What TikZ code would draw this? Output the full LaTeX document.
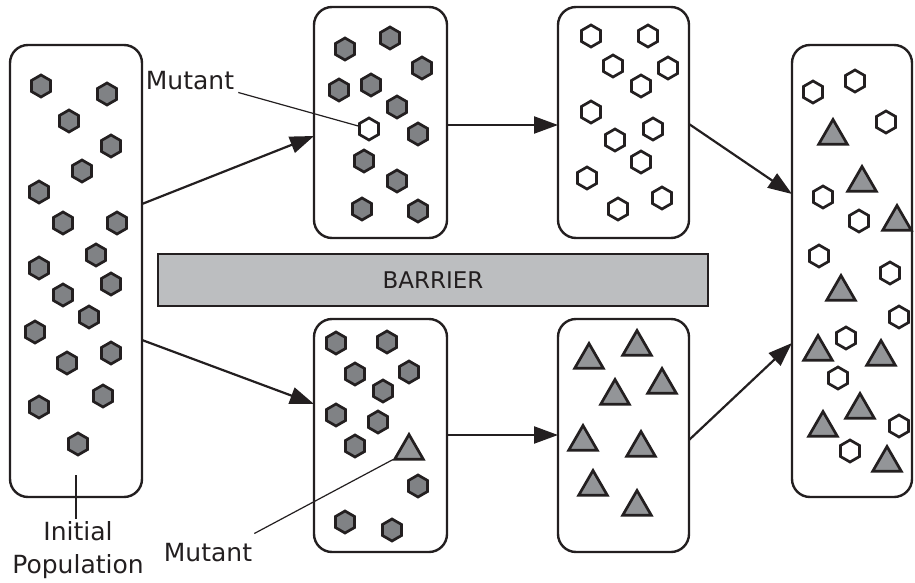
\documentclass[tikz,border=0pt]{standalone}
\usepackage{fontspec}
\setmainfont{DejaVu Sans}
\usetikzlibrary{shapes.geometric,arrows.meta}
\definecolor{ink}{HTML}{231F20}
\definecolor{hexfill}{HTML}{808285}
\definecolor{trifill}{HTML}{939598}
\definecolor{barfill}{HTML}{BCBEC0}
\begin{document}
\begin{tikzpicture}[x=1pt,y=-1pt,
  popbox/.style={draw=ink, line width=2.4pt, rounded corners=18pt, fill=white, inner sep=0pt, outer sep=0pt},
  hexd/.style={regular polygon, regular polygon sides=6, shape border rotate=30, minimum size=22pt, inner sep=0pt, draw=ink, line width=2.7pt, fill=hexfill},
  hexw/.style={hexd, fill=white},
  tri/.style={regular polygon, regular polygon sides=3, minimum size=33pt, inner sep=0pt, draw=ink, line width=2.7pt, fill=trifill},
  flow/.style={draw=ink, line width=2.2pt, -{Triangle[length=24pt,width=17pt]}},
  pointer/.style={draw=ink, line width=1.2pt},
  lbl/.style={text=ink, font=\fontsize{25}{33}\selectfont, inner sep=2pt},
  barrierbox/.style={draw=ink, line width=2.2pt, fill=barfill, inner sep=0pt, text=ink, font=\fontsize{23}{28}\selectfont}]
\useasboundingbox (0,0) rectangle (915,583);

% population boxes
\node[popbox, minimum width=132pt, minimum height=452pt] (b1) at (76,271) {};
\node[popbox, minimum width=133pt, minimum height=231pt] (b2) at (380.5,122.5) {};
\node[popbox, minimum width=133pt, minimum height=233pt] (b3) at (380.5,435.5) {};
\node[popbox, minimum width=131pt, minimum height=231pt] (b4) at (623.5,122.5) {};
\node[popbox, minimum width=131pt, minimum height=233pt] (b5) at (623.5,435.5) {};
\node[popbox, minimum width=120pt, minimum height=452pt] (b6) at (852,271) {};

% barrier
\node[barrierbox, minimum width=550pt, minimum height=52pt] (bar) at (433,280) {BARRIER};

% box 1
\foreach \x/\y [count=\i] in {41/86,107/94,69/121,111/146,82/171,39/192,63/223,117/223,96/255,39/268,111/284,63/295,89/317,35/332,111/353,67/363,103/396,39/407,78/444}
  \node[hexd] (pa\i) at (\x,\y) {};

% box 2
\foreach \x/\y [count=\i] in {345/49,390/38,422/68,339/90,371/85,397/107,418/134,364/161,397/181,362/209,418/211}
  \node[hexd] (pb\i) at (\x,\y) {};
\node[hexw] (m1) at (369,129) {};

% box 3
\foreach \x/\y [count=\i] in {336/343,387/342,355/374,409/372,383/391,336/415,378/422,355/446,418/486,345/522,392/530}
  \node[hexd] (pc\i) at (\x,\y) {};
\node[tri] (m2) at (409,451) {};

% box 4
\foreach \x/\y [count=\i] in {591/36,648/36,613/66,668/68,641/86,591/112,653/129,615/140,641/162,587/178,662/198,618/209}
  \node[hexw] (pd\i) at (\x,\y) {};

% box 5
\foreach \x/\y [count=\i] in {589/360,637/347,662/385,615/396,583/442,641/448,593/487,637/507}
  \node[tri] (pe\i) at (\x,\y) {};

% box 6
\foreach \x/\y [count=\i] in {813/92,855/81,886/122,823/197,859/221,819/256,890/273,899/317,846/338,838/378,899/426,850/451}
  \node[hexw] (pf\i) at (\x,\y) {};
\foreach \x/\y [count=\i] in {833/136,862/183,897/222,841/292,818/352,881/357,860/410,823/428,887/463}
  \node[tri] (pg\i) at (\x,\y) {};

% arrows
\draw[flow] (b1.east |- 0,204) -- (b2.west |- 0,136);
\draw[flow] (b1.east |- 0,340) -- (b3.west |- 0,404);
\draw[flow] (b2.east |- 0,125) -- (b4.west |- 0,125);
\draw[flow] (b3.east |- 0,435) -- (b5.west |- 0,435);
\draw[flow] (b4.east |- 0,124) -- (b6.west |- 0,194);
\draw[flow] (b5.east |- 0,440) -- (b6.west |- 0,343);

% labels
\node[lbl] (mt) at (190,81) {Mutant};
\draw[pointer] ([xshift=2pt]mt.south east) -- (m1);
\node[lbl] (mb) at (208,553) {Mutant};
\draw[pointer] ([yshift=8pt]mb.north east) -- (m2);
\node[lbl, align=center] (ip) at (78,550) {Initial\\Population};
\coordinate (c1) at (76,475);
\draw[pointer] (c1) -- (c1 |- ip.north);
\end{tikzpicture}
\end{document}
